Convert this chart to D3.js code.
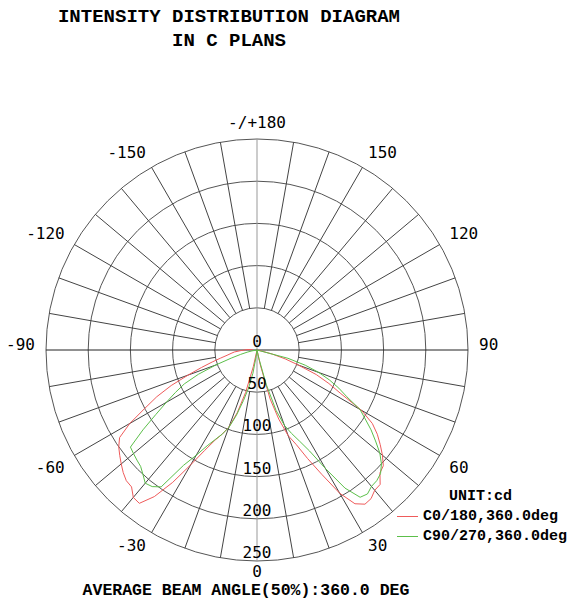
<!DOCTYPE html>
<html>
<head>
<meta charset="utf-8">
<script src="https://cdn.jsdelivr.net/npm/d3@7"></script>
<style>
body { margin: 0; background: #fff; }
</style>
</head>
<body>
<div id="plot"></div>
<script>
// gamma angles (deg from nadir) and intensities (cd)
var gammaDeg = [0, 2.5, 5, 7.5, 10, 12.5, 15, 17.5, 20, 22.5, 25, 27.5, 30, 32.5, 35, 37.5, 40, 42.5, 45, 47.5,
                50, 52.5, 55, 57.5, 60, 62.5, 65, 67.5, 70, 72.5, 75, 77.5, 80, 82.5, 85, 87.5, 90, 92.5, 95];
var c0   = [0, 0, 0, 0, 0, 18, 60, 86, 108, 121, 142, 166, 196, 216, 223, 222, 217, 216, 206, 203,
            194, 184, 174, 162, 143, 112, 94, 76, 52, 35, 19, 5, 0, 0, 0, 0, 0, 0, 0];
var c180 = [0, 0, 0, 0, 0, 20, 52, 78, 97, 108, 118, 134, 157, 186, 212, 229, 228, 220, 219, 215,
            210, 205, 200, 193, 174, 150, 131, 110, 87, 69, 55, 44, 36, 31, 27, 20, 15, 12, 5];
var c90  = [0, 0, 0, 0, 0, 10, 42, 75, 95, 107, 119, 135, 162, 194, 213, 215, 211, 210, 207, 200,
            190, 177, 165, 152, 141, 120, 107, 93, 78, 60, 38, 0, 0, 0, 0, 0, 0, 0, 0];
var c270 = [0, 0, 0, 8, 28, 46, 62, 81, 98, 108, 117, 128, 144, 162, 198, 204, 206, 200, 195, 193,
            191, 189, 165, 142, 124, 109, 95, 75, 52, 32, 20, 12, 6, 0, 0, 0, 0, 0, 0];

var ringValues = [50, 100, 150, 200, 250];
var ringLabels = [0, 50, 100, 150, 200, 250];
var angleTicks = [-150, -120, -90, -60, -30, 0, 30, 60, 90, 120, 150, 180];
var titleLines = ["INTENSITY DISTRIBUTION DIAGRAM", "IN C PLANS"];
var legendItems = [
    {name: "C0/180,360.0deg", color: "#ef5b5b"},
    {name: "C90/270,360.0deg", color: "#5cbf4a"}
];

var cx = 257, cy = 350;
var serif = "'Liberation Mono', monospace";
var sans = "'DejaVu Sans Mono', monospace";

var svg = d3.select("#plot")
            .append("svg")
            .attr("width", 571)
            .attr("height", 602);

var r = d3.scaleLinear().domain([0, 250]).range([0, 211]);
var rad = function(deg){ return deg * Math.PI / 180; };

// title
svg.selectAll(".title")
    .data(titleLines)
    .enter().append("text")
    .attr("class", "title")
    .attr("x", 229)
    .attr("y", function(d, i){ return 22 + i * 24; })
    .attr("text-anchor", "middle")
    .style("font-family", serif)
    .style("font-weight", "bold")
    .style("font-size", "19px")
    .text(function(d){ return d; });

var g = svg.append("g")
    .attr("transform", "translate(" + cx + "," + cy + ")");

// rings
g.selectAll(".ring")
    .data(ringValues)
    .enter().append("circle")
    .attr("class", "ring")
    .attr("r", function(d){ return r(d); })
    .style("fill", "none")
    .style("stroke", "#555")
    .style("stroke-width", 1);

// spokes every 10 deg, from the 50 ring outwards
var spokes = d3.range(0, 360, 10).filter(function(d){ return d % 90 !== 0; });
g.selectAll(".spoke")
    .data(spokes)
    .enter().append("line")
    .attr("class", "spoke")
    .attr("x1", function(d){ return r(50) * Math.sin(rad(d)); })
    .attr("y1", function(d){ return r(50) * Math.cos(rad(d)); })
    .attr("x2", function(d){ return r(250) * Math.sin(rad(d)); })
    .attr("y2", function(d){ return r(250) * Math.cos(rad(d)); })
    .style("stroke", "#444")
    .style("stroke-width", 1);

// main axes
g.append("line")
    .attr("x1", 0).attr("x2", 0)
    .attr("y1", -r(250)).attr("y2", r(250))
    .style("stroke", "#999")
    .style("stroke-width", 1);
g.append("line")
    .attr("x1", -r(250)).attr("x2", r(250))
    .attr("y1", 0).attr("y2", 0)
    .style("stroke", "#222")
    .style("stroke-width", 1);

// curves: left half (C180 / C270) then right half (C0 / C90)
var line = d3.lineRadial()
    .angle(function(d){ return d.a; })
    .radius(function(d){ return r(d.v); });

function plane(left, right){
    var pts = [];
    for (var i = gammaDeg.length - 1; i >= 0; i--) {
        pts.push({a: Math.PI + rad(gammaDeg[i]), v: left[i]});
    }
    for (var j = 0; j < gammaDeg.length; j++) {
        pts.push({a: Math.PI - rad(gammaDeg[j]), v: right[j]});
    }
    return pts;
}

var planes = [
    {pts: plane(c180, c0), color: legendItems[0].color},
    {pts: plane(c270, c90), color: legendItems[1].color}
];

g.selectAll(".curve")
    .data(planes)
    .enter().append("path")
    .attr("class", "curve")
    .attr("d", function(d){ return line(d.pts); })
    .style("fill", "none")
    .style("stroke", function(d){ return d.color; })
    .style("stroke-width", 1);

// ring labels on the vertical axis
g.selectAll(".rlabel")
    .data(ringLabels)
    .enter().append("text")
    .attr("class", "rlabel")
    .attr("x", 0)
    .attr("y", function(d){ return r(d) - 3; })
    .attr("text-anchor", "middle")
    .style("font-family", sans)
    .style("font-size", "16px")
    .text(function(d){ return d; });

// angle labels around the outside
var labR = 222;
g.selectAll(".alabel")
    .data(angleTicks)
    .enter().append("text")
    .attr("class", "alabel")
    .attr("x", function(d){ return labR * Math.sin(rad(d)); })
    .attr("y", function(d){ return labR * Math.cos(rad(d)); })
    .attr("dy", function(d){
        // lower half labels hang below the circle
        return Math.abs(d) < 90 ? (5 + 8 * Math.sin(rad(Math.abs(d)))) : 0;
    })
    .attr("text-anchor", function(d){
        if (d === 0 || d === 180) return "middle";
        return d > 0 ? "start" : "end";
    })
    .style("font-family", sans)
    .style("font-size", "16px")
    .text(function(d){ return d === 180 ? "-/+180" : d; });

// legend
svg.append("text")
    .attr("x", 449)
    .attr("y", 500)
    .style("font-family", serif)
    .style("font-weight", "bold")
    .style("font-size", "15px")
    .text("UNIT:cd");

var lg = svg.selectAll(".legend")
    .data(legendItems)
    .enter().append("g")
    .attr("class", "legend")
    .attr("transform", function(d, i){ return "translate(397," + (520 + i * 20) + ")"; });
lg.append("line")
    .attr("x1", 0).attr("x2", 21)
    .attr("y1", -3.5).attr("y2", -3.5)
    .style("stroke", function(d){ return d.color; })
    .style("stroke-width", 1);
lg.append("text")
    .attr("x", 26)
    .attr("y", 0)
    .style("font-family", serif)
    .style("font-weight", "bold")
    .style("font-size", "15px")
    .text(function(d){ return d.name; });

// footer
svg.append("text")
    .attr("x", 246)
    .attr("y", 595)
    .attr("text-anchor", "middle")
    .style("font-family", serif)
    .style("font-weight", "bold")
    .style("font-size", "16.5px")
    .text("AVERAGE BEAM ANGLE(50%):360.0 DEG");
</script>
</body>
</html>
